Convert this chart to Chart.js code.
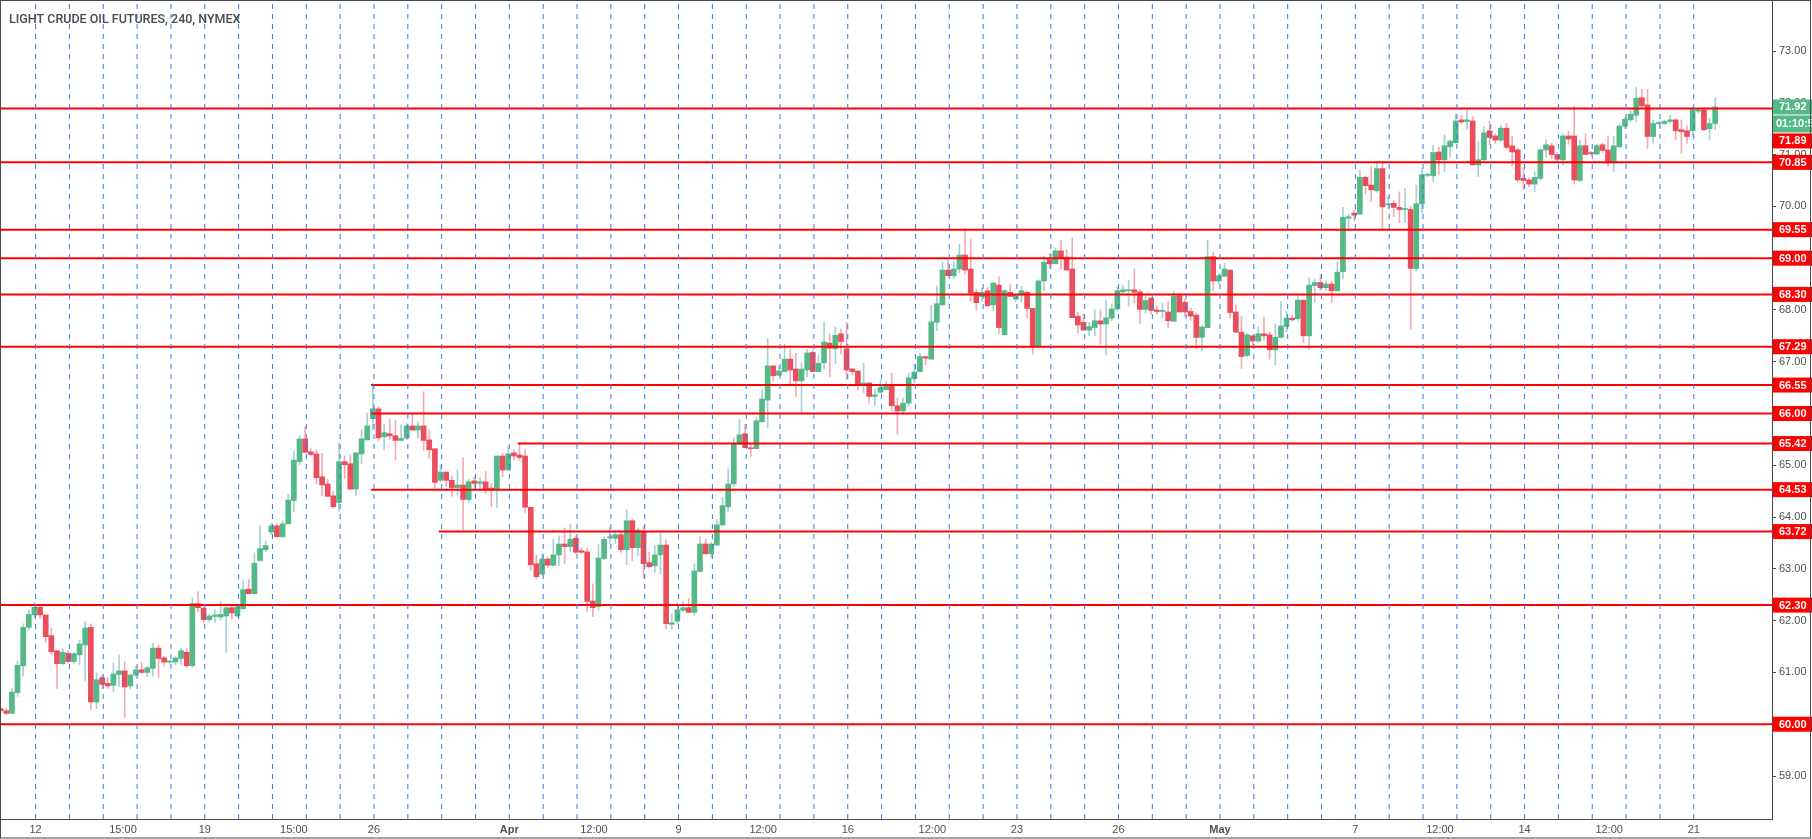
<!DOCTYPE html>
<html>
<head>
<meta charset="utf-8">
<script src="https://cdn.jsdelivr.net/npm/chart.js@4.4.1/dist/chart.umd.min.js"></script>
<style>
  html, body { margin: 0; padding: 0; background: #fff; }
  #wrap { width: 1812px; height: 839px; position: relative; }
</style>
</head>
<body>
<div id="wrap"><canvas id="oilChart"></canvas></div>
<script>
// 4h candles
var opens = [60.30,60.26,60.21,60.61,61.13,61.87,62.11,62.26,62.11,61.71,
61.42,61.17,61.37,61.21,61.34,61.53,61.87,60.43,60.90,60.79,
60.75,60.96,61.03,60.74,60.95,61.05,61.00,61.08,61.47,61.28,
61.20,61.20,61.27,61.39,61.13,62.33,62.24,62.02,62.08,62.07,
62.09,62.25,62.09,62.23,62.61,62.52,63.16,63.37,63.71,63.83,
63.62,63.87,64.32,65.07,65.51,65.26,65.22,64.78,64.64,64.41,
64.28,65.07,65.03,64.54,65.22,65.49,65.90,66.09,65.55,65.61,
65.57,65.48,65.53,65.76,65.68,65.76,65.49,65.32,64.71,64.87,
64.71,64.57,64.62,64.34,64.70,64.65,64.68,64.56,64.54,65.18,
64.91,65.24,65.20,65.18,64.19,63.10,62.90,63.19,63.07,63.27,
63.48,63.43,63.59,63.35,63.33,62.38,62.27,63.20,63.60,63.59,
63.66,63.37,63.93,63.41,63.72,63.12,63.06,63.27,63.46,61.93,
61.99,62.20,62.25,62.16,62.95,63.48,63.29,63.46,63.85,64.20,
64.64,65.41,65.61,65.34,65.32,65.84,66.26,66.92,66.74,66.81,
67.05,66.86,66.63,66.84,67.18,66.81,66.98,67.36,67.25,67.54,
67.25,66.86,66.82,66.55,66.59,66.33,66.41,66.46,66.54,66.15,
66.05,66.20,66.67,66.81,67.10,67.05,67.76,68.10,68.77,68.66,
68.79,69.06,68.79,68.34,68.26,68.37,68.10,68.48,67.52,68.34,
68.21,68.29,68.34,68.03,67.29,68.56,68.97,68.89,69.14,69.02,
68.79,67.88,67.76,67.61,67.66,67.79,67.73,67.84,68.02,68.35,
68.37,68.39,68.35,68.01,68.23,68.00,67.97,67.96,67.78,68.27,
68.15,67.97,67.90,67.47,67.66,69.03,68.56,68.65,68.77,67.96,
67.57,67.12,67.50,67.40,67.54,67.52,67.23,67.47,67.68,67.84,
67.83,68.19,67.50,68.47,68.53,68.43,68.50,68.37,68.74,69.77,
69.87,69.85,70.56,70.41,70.30,70.73,70.03,70.06,69.98,69.94,
69.94,68.80,70.05,70.60,70.59,71.05,70.90,71.15,71.23,71.67,
71.64,71.65,70.80,70.90,71.46,71.36,71.28,71.51,71.17,71.09,
70.54,70.51,70.43,70.54,71.09,71.17,71.00,70.90,71.36,71.36,
70.50,71.17,71.03,71.01,71.19,71.09,70.84,71.15,71.55,71.67,
71.76,72.10,71.96,71.35,71.60,71.60,71.64,71.67,71.48,71.46,
71.46,71.84,71.86,71.50,71.60]
var highs = [60.33,60.31,60.70,61.22,61.94,62.20,62.35,62.31,62.11,61.86,
61.42,61.46,61.42,61.39,61.62,61.98,61.94,60.99,60.95,60.90,
61.19,61.34,61.21,60.97,61.12,61.19,61.12,61.56,61.53,61.31,
61.24,61.31,61.46,61.46,62.44,62.56,62.25,62.12,62.22,62.37,
62.27,62.31,62.33,62.77,62.79,63.31,63.83,63.54,63.88,63.87,
63.93,64.44,65.28,65.57,65.75,65.32,65.30,65.23,64.73,64.50,
65.43,65.18,65.20,65.24,65.68,66.01,66.58,66.13,65.78,65.90,
65.86,65.78,65.81,65.98,65.84,66.42,65.68,65.32,65.01,64.87,
64.78,64.91,65.15,64.73,64.78,64.76,64.88,64.65,65.18,65.23,
65.36,65.30,65.44,65.30,64.19,63.27,63.29,63.23,63.57,63.64,
63.79,63.86,63.64,63.40,63.40,62.71,63.48,63.62,63.80,63.74,
63.71,64.14,63.96,63.79,63.82,63.32,63.46,63.70,63.56,62.13,
62.34,62.37,62.43,63.10,63.62,63.58,63.51,63.95,64.38,64.93,
65.54,65.88,65.79,65.42,65.92,66.46,67.45,66.92,66.91,67.34,
67.23,67.16,66.98,67.24,67.23,67.13,67.77,67.54,67.67,67.63,
67.76,66.87,66.82,66.97,66.59,66.48,66.65,66.62,66.78,66.30,
66.30,66.78,66.96,67.16,67.10,68.09,68.46,68.93,68.97,68.93,
69.27,69.58,69.37,68.39,68.42,68.43,68.52,68.64,68.39,68.50,
68.29,68.46,68.37,68.03,68.58,69.04,69.09,69.20,69.35,69.17,
69.39,67.96,67.92,67.76,68.00,68.00,68.19,68.11,68.44,68.48,
68.57,68.79,68.39,68.26,68.23,68.08,68.14,68.17,68.35,68.31,
68.21,68.03,67.94,67.71,69.35,69.11,68.70,68.90,68.77,68.10,
67.88,67.55,67.50,67.67,67.86,67.58,67.73,68.16,67.97,67.90,
68.26,68.19,68.62,68.60,68.68,68.56,68.55,68.92,69.98,69.85,
69.93,70.70,70.59,70.78,70.86,70.83,70.20,70.12,70.28,70.35,
70.00,70.41,70.73,70.64,71.18,71.14,71.38,71.28,71.78,71.76,
71.89,71.73,71.26,71.54,71.64,71.40,71.56,71.60,71.35,71.12,
70.75,70.55,70.67,71.12,71.28,71.22,71.04,71.40,71.45,71.94,
71.28,71.40,71.06,71.20,71.22,71.36,71.35,71.58,71.72,71.86,
72.30,72.26,72.26,71.67,71.64,71.66,71.76,71.70,71.67,71.55,
71.92,71.89,71.88,71.70,72.10]
var lows = [60.22,60.18,60.21,60.54,60.93,61.82,62.05,62.04,61.58,61.34,
60.69,61.15,61.18,61.18,61.15,60.83,60.28,60.30,60.69,60.69,
60.63,60.73,60.13,60.68,60.92,60.97,60.92,60.93,60.90,61.12,
61.16,61.15,61.15,61.10,61.10,62.18,61.97,61.98,61.96,62.01,
61.39,62.04,62.08,62.22,62.52,62.51,63.15,63.33,63.66,63.62,
63.61,63.87,64.10,65.01,65.25,65.18,64.64,64.42,64.40,64.17,
64.11,64.75,64.54,64.42,65.03,65.49,65.68,65.48,65.30,65.49,
65.10,65.48,65.49,65.68,65.53,65.28,65.14,64.56,64.67,64.59,
64.40,64.42,63.75,64.28,64.56,64.54,64.46,64.20,64.18,64.78,
64.90,65.10,65.10,64.09,62.97,62.81,62.88,63.03,63.06,63.06,
63.10,63.34,63.29,63.29,62.18,62.08,62.20,63.18,63.49,63.49,
63.32,63.08,63.16,63.25,62.83,63.03,62.93,62.90,61.84,61.84,
61.94,62.18,62.16,62.11,62.95,63.29,63.22,63.46,63.83,64.11,
64.59,65.39,65.34,65.17,65.32,65.84,65.73,66.63,66.74,66.81,
66.53,66.33,66.02,66.71,66.81,66.81,66.86,66.71,66.97,67.15,
66.65,66.75,66.45,66.40,66.20,66.15,66.39,66.45,66.05,65.60,
65.98,66.15,66.60,66.80,66.94,67.05,67.60,68.08,68.66,68.61,
68.72,68.69,68.16,68.00,68.16,68.08,67.99,67.54,67.52,68.26,
68.16,68.16,67.84,67.15,67.29,68.37,68.80,68.89,68.80,68.77,
67.85,67.56,67.61,67.50,67.50,67.34,67.13,67.79,67.98,68.33,
68.07,68.14,67.74,67.94,67.92,67.92,67.84,67.66,67.78,67.96,
67.87,67.80,67.25,67.20,67.66,68.37,68.50,68.65,67.84,67.57,
66.87,67.10,67.27,67.37,67.42,67.05,66.94,67.47,67.58,67.78,
67.79,67.37,67.24,68.14,68.37,68.37,68.14,68.37,68.60,69.54,
69.72,69.85,70.24,70.09,70.27,69.54,69.96,69.80,69.69,69.69,
67.62,68.75,69.87,70.57,70.48,70.62,70.67,70.95,71.22,71.59,
71.48,70.80,70.57,70.88,71.19,71.22,71.25,71.10,70.78,70.47,
70.33,70.38,70.28,70.50,70.95,70.92,70.85,70.80,71.20,70.43,
70.48,71.00,70.99,71.00,71.04,70.77,70.67,71.13,71.50,71.64,
71.64,71.90,71.12,71.22,71.58,71.58,71.60,71.28,71.02,71.22,
71.35,71.80,71.46,71.28,71.48]
var closes = [60.26,60.21,60.62,61.14,61.87,62.12,62.26,62.11,61.69,61.40,
61.17,61.39,61.21,61.36,61.55,61.86,60.43,60.86,60.77,60.74,
60.97,61.03,60.72,60.95,61.05,61.00,61.09,61.47,61.27,61.20,
61.22,61.28,61.42,61.13,62.33,62.25,62.02,62.09,62.11,62.12,
62.25,62.15,62.27,62.60,62.52,63.11,63.39,63.45,63.83,63.62,
63.87,64.33,65.10,65.51,65.25,65.21,64.76,64.62,64.40,64.20,
65.07,65.01,64.54,65.24,65.51,65.76,66.09,65.53,65.63,65.57,
65.48,65.52,65.76,65.68,65.76,65.48,65.30,64.67,64.87,64.71,
64.57,64.62,64.34,64.68,64.65,64.68,64.54,64.54,65.18,64.91,
65.22,65.18,65.15,64.19,63.08,62.85,63.19,63.07,63.27,63.48,
63.43,63.57,63.32,63.32,62.37,62.25,63.21,63.57,63.62,63.66,
63.37,63.93,63.41,63.75,63.10,63.04,63.27,63.46,61.94,61.96,
62.21,62.25,62.16,62.96,63.48,63.29,63.48,63.85,64.22,64.64,
65.43,65.59,65.34,65.32,65.86,66.28,66.92,66.73,66.82,67.05,
66.84,66.63,66.86,67.17,66.81,66.97,67.38,67.26,67.51,67.39,
66.84,66.81,66.55,66.59,66.33,66.36,66.50,66.54,66.15,66.05,
66.20,66.69,66.80,67.10,67.07,67.77,68.12,68.77,68.66,68.79,
69.06,68.77,68.32,68.14,68.34,68.08,68.52,67.66,68.37,68.26,
68.29,68.37,68.03,67.29,68.56,68.92,68.89,69.14,68.99,68.77,
67.85,67.71,67.61,67.68,67.79,67.73,67.85,68.02,68.37,68.39,
68.39,68.34,68.01,68.18,67.99,67.97,67.99,67.79,68.27,67.96,
67.96,67.88,67.47,67.67,69.03,68.56,68.66,68.79,67.95,67.57,
67.10,67.52,67.40,67.54,67.50,67.23,67.47,67.69,67.84,67.81,
68.19,67.50,68.48,68.53,68.43,68.50,68.37,68.73,69.79,69.80,
69.83,70.56,70.40,70.32,70.73,69.99,70.05,69.98,69.94,69.95,
68.80,70.05,70.61,70.61,71.04,70.90,71.17,71.26,71.65,71.63,
71.67,70.80,70.90,71.42,71.33,71.28,71.51,71.14,71.05,70.51,
70.50,70.43,70.56,71.09,71.19,71.00,70.91,71.36,71.30,70.51,
71.17,71.00,71.02,71.17,71.08,70.84,71.17,71.55,71.68,71.78,
72.09,71.94,71.35,71.60,71.62,71.64,71.67,71.46,71.44,71.35,
71.87,71.86,71.48,71.60,71.92]

// horizontal levels and the candle where each one starts
var levels     = [71.89, 70.85, 69.55, 69.00, 68.30, 67.29, 66.55, 66.00, 65.42, 64.53, 63.72, 62.30, 60.00]
var levelStart = [-1, -1, -1, -1, -1, -1, 65.7, 65.7, 91.7, 65.7, 77.7, -1, -1]
var lastPrice = 71.92
var countdown = '01:10:54'

// time axis (candle index units)
var tickPos    = [6.2, 21.7, 36.2, 52.0, 66.2, 90.2, 105.2, 120.2, 135.2, 150.2, 165.2, 180.2, 198.2, 216.2, 240.2, 255.2, 270.2, 285.2, 300.2]
var tickLabels = ['12', '15:00', '19', '15:00', '26', 'Apr', '12:00', '9', '12:00', '16', '12:00', '23', '26', 'May', '7', '12:00', '14', '12:00', '21']
var yTicks = [59, 60, 61, 62, 63, 64, 65, 66, 67, 68, 69, 70, 71, 72, 73]
var dayCount = 50   // one dashed line per session

var xMin = -0.106, xMax = 314.07
var yMin = 58.17, yMax = 73.985

var upColor = '#53b987', downColor = '#eb4d5c'
var upWick = '#a6d1d4', downWick = '#f6a9b3'
var fontFam = '"Liberation Sans", Arial, sans-serif'

var idx = opens.map(function(_, i) { return i })
var isUp = idx.map(function(i) { return closes[i] >= opens[i] })

var datasets = []

// dashed day separators
for (var k = 0; k < dayCount; k++) {
  var p = tickPos[0] + 6 * k
  datasets.push({
    type: 'line',
    data: [{x: p, y: yMin}, {x: p, y: yMax}],
    borderColor: 'rgb(48,121,237)',
    borderWidth: 1,
    borderDash: [5, 5],
    pointRadius: 0,
    order: 0
  })
}

// red levels
levels.forEach(function(lv, j) {
  var s = levelStart[j] < 0 ? xMin : levelStart[j]
  datasets.push({
    type: 'line',
    data: [{x: s, y: lv}, {x: xMax, y: lv}],
    borderColor: '#ff0000',
    borderWidth: 2,
    pointRadius: 0,
    order: 1
  })
})

// wicks then bodies
datasets.push({
  type: 'bar',
  data: idx.map(function(i) { return {x: i, y: [lows[i], highs[i]]} }),
  backgroundColor: idx.map(function(i) { return isUp[i] ? upWick : downWick }),
  barThickness: 1,
  grouped: false,
  borderWidth: 0,
  order: 3
})
datasets.push({
  type: 'bar',
  data: idx.map(function(i) { return {x: i, y: [opens[i], closes[i]]} }),
  backgroundColor: idx.map(function(i) { return isUp[i] ? upColor : downColor }),
  barThickness: 5,
  minBarLength: 1,
  grouped: false,
  borderWidth: 0,
  order: 2
})

// title, price tags, frame
const Overlay = {
  id: 'Overlay',
  beforeDraw(chart) {
    const ctx = chart.ctx
    ctx.save()
    ctx.fillStyle = '#ffffff'
    ctx.fillRect(0, 0, chart.width, chart.height)
    ctx.restore()
  },
  afterDraw(chart) {
    const {ctx, chartArea: {left, right, top, bottom}, scales: {y}} = chart
    ctx.save()
    // title
    ctx.fillStyle = '#4a4a4a'
    ctx.font = '500 12.5px Roboto, ' + fontFam
    ctx.textBaseline = 'alphabetic'
    ctx.textAlign = 'left'
    ctx.fillText('LIGHT CRUDE OIL FUTURES, 240, NYMEX', 9, 23)

    // last price + countdown
    var boxX = right + 1, boxW = chart.width - right - 1, boxH = 15
    var yl = y.getPixelForValue(lastPrice)
    ctx.font = 'bold 11px ' + fontFam
    ctx.textBaseline = 'middle'
    ctx.fillStyle = upColor
    ctx.fillRect(boxX, yl - boxH / 2, boxW, boxH)
    ctx.fillStyle = '#ffffff'
    ctx.fillText(lastPrice.toFixed(2), right + 7, yl + 0.5)
    var cdTop = yl + boxH / 2 + 1
    ctx.fillStyle = upColor
    ctx.fillRect(boxX, cdTop, boxW, 17)
    ctx.fillStyle = '#ffffff'
    ctx.fillText(countdown, right + 4, cdTop + 9)

    // level tags, pushed down when they would overlap
    var minTop = cdTop + 17 + 1
    var sorted = levels.slice().sort(function(a, b) { return b - a })
    sorted.forEach(function(lv) {
      var t = Math.max(y.getPixelForValue(lv) - boxH / 2, minTop)
      ctx.fillStyle = '#ff0000'
      ctx.fillRect(boxX, t, boxW, boxH)
      ctx.fillStyle = '#ffffff'
      ctx.fillText(lv.toFixed(2), right + 7, t + boxH / 2 + 0.5)
      minTop = t + boxH + 1
    })

    // outer frame
    ctx.strokeStyle = '#4a4a4a'
    ctx.lineWidth = 1
    ctx.strokeRect(0.5, 0.5, chart.width - 2, chart.height - 1.5)
    ctx.restore()
  }
}

const oilCfg = {
  data: { datasets: datasets },
  plugins: [Overlay],
  options: {
    responsive: true,
    maintainAspectRatio: false,
    animation: false,
    events: [],
    layout: { padding: 0 },
    plugins: {
      legend: { display: false },
      tooltip: { enabled: false }
    },
    scales: {
      x: {
        type: 'linear',
        min: xMin,
        max: xMax,
        offset: false,
        grid: { display: false, drawTicks: false },
        border: { display: true, color: '#4a4a4a' },
        afterBuildTicks: function(s) { s.ticks = tickPos.map(function(v) { return {value: v} }) },
        afterFit: function(s) {
          s.height = 20
          s.paddingLeft = 0; s.paddingRight = 0; s.paddingTop = 0; s.paddingBottom = 0
        },
        ticks: {
          autoSkip: false,
          maxRotation: 0,
          padding: 4,
          color: '#4f4f4f',
          font: function(c) {
            var lab = tickLabels[c.index]
            return { size: 11, family: fontFam, weight: (lab === 'Apr' || lab === 'May') ? 'bold' : 'normal' }
          },
          callback: function(v, i) { return tickLabels[i] }
        }
      },
      y: {
        type: 'linear',
        position: 'right',
        min: yMin,
        max: yMax,
        afterBuildTicks: function(s) { s.ticks = yTicks.map(function(v) { return {value: v} }) },
        afterFit: function(s) {
          s.width = 40
          s.paddingLeft = 0; s.paddingRight = 0; s.paddingTop = 0; s.paddingBottom = 0
        },
        grid: { display: true, drawOnChartArea: false, drawTicks: true, tickLength: 4, color: '#4a4a4a' },
        border: { display: true, color: '#4a4a4a' },
        ticks: {
          padding: 3,
          color: '#4f4f4f',
          font: { size: 11, family: fontFam },
          callback: function(v) { return Number(v).toFixed(2) }
        }
      }
    }
  }
}

var ctx = document.getElementById('oilChart')
var oilChart = new Chart(ctx, oilCfg)
</script>
</body>
</html>
